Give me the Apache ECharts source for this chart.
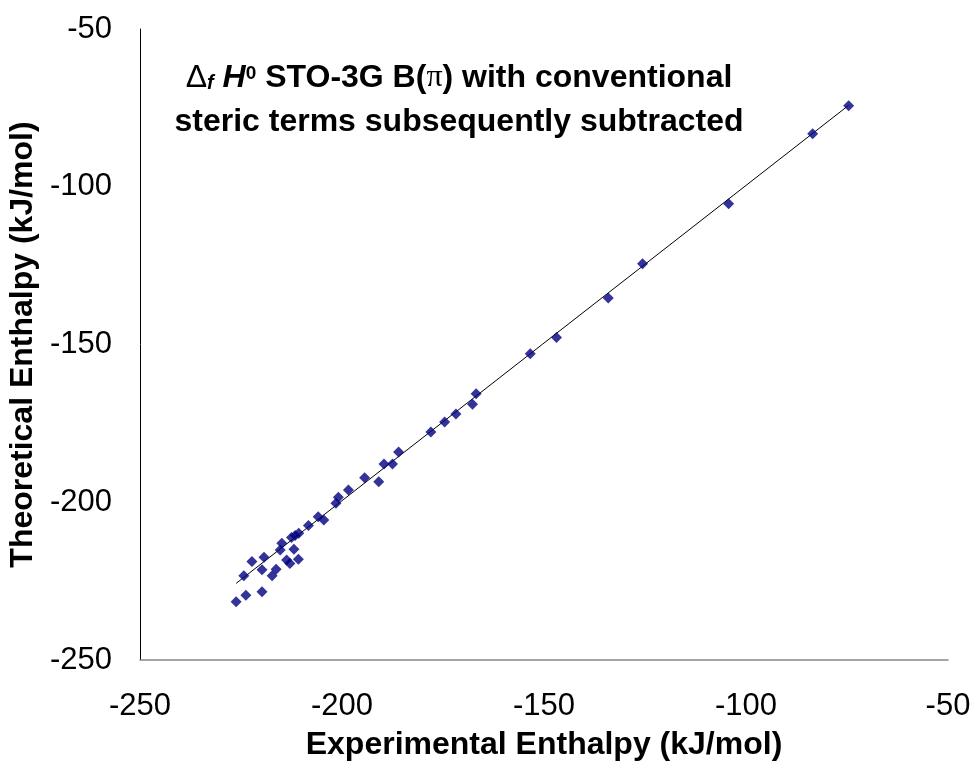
<!DOCTYPE html>
<html><head><meta charset="utf-8">
<script src="https://cdn.jsdelivr.net/npm/echarts@6/dist/echarts.min.js"></script>
<style>html,body{margin:0;padding:0;background:#fff}#c{width:975px;height:764px}</style>
</head><body><div id="c"></div>
<script>
const expX = [-226.2, -223.8, -219.8, -224.3, -222.3, -219.3, -219.8, -217.3, -216.3, -215.3, -214.9, -213.7, -212.9, -211.9, -210.8, -212.5, -211.6, -210.7, -208.3, -205.9, -204.5, -201.5, -200.9, -198.4, -194.4, -190.9, -189.6, -187.5, -186.0, -178.0, -174.6, -171.8, -167.7, -166.8, -153.4, -146.9, -134.1, -125.6, -104.3, -83.5, -74.6];
const theoY = [-231.5, -229.5, -228.4, -223.3, -218.8, -217.4, -221.4, -223.3, -221.2, -215.1, -213.0, -218.3, -219.4, -214.9, -218.1, -211.2, -210.5, -209.8, -207.4, -204.6, -205.6, -200.3, -198.4, -196.1, -192.2, -193.5, -187.9, -187.9, -184.1, -177.7, -174.6, -172.0, -168.9, -165.6, -152.9, -147.8, -135.3, -124.4, -105.4, -83.2, -74.3];
const trendX = [-226.2, -74.6];
const trendY = [-225.7, -74.2];
const xTicks = [-250, -200, -150, -100, -50];
const yTicks = [-250, -200, -150, -100, -50];
const xTitle = 'Experimental Enthalpy (kJ/mol)';
const yTitle = 'Theoretical Enthalpy (kJ/mol)';

const FONT = '"Liberation Sans", Arial, sans-serif';
const chart = echarts.init(document.getElementById('c'), null, {renderer: 'canvas'});
const pts = expX.map((x, i) => [x, theoY[i]]);
const trend = trendX.map((x, i) => [x, trendY[i]]);

chart.setOption({
  backgroundColor: '#fff',
  animation: false,
  title: {
    left: 459, top: 56, textAlign: 'center', padding: 0,
    text: '{d|Δ}{sub|f}{it| H}{sup|0}{b| STO-3G B(}{p|π}{b|) with conventional}\n{b|steric terms subsequently subtracted}',
    textStyle: {
      rich: {
        b: {fontSize: 32, fontWeight: 'bold', fontFamily: FONT, lineHeight: 44, color: '#000'},
        d: {fontSize: 32, fontWeight: 'normal', fontFamily: FONT, lineHeight: 44, color: '#000'},
        sub: {fontSize: 20, fontWeight: 'bold', fontStyle: 'italic', fontFamily: FONT, height: 33, lineHeight: 44, verticalAlign: 'bottom', color: '#000'},
        it: {fontSize: 32, fontWeight: 'bold', fontStyle: 'italic', fontFamily: FONT, lineHeight: 44, color: '#000'},
        sup: {fontSize: 19, fontWeight: 'bold', fontFamily: FONT, height: 35, lineHeight: 44, verticalAlign: 'top', color: '#000'},
        p: {fontSize: 32, fontWeight: 'normal', fontFamily: '"Liberation Serif", serif', lineHeight: 44, color: '#000'}
      }
    }
  },
  grid: {left: 140, top: 29, right: 27, bottom: 104, containLabel: false, outerBoundsMode: 'none'},
  xAxis: {
    type: 'value', min: xTicks[0], max: xTicks[xTicks.length - 1], interval: 50,
    name: xTitle, nameLocation: 'middle', nameGap: 69,
    nameTextStyle: {fontSize: 32, fontWeight: 'bold', fontFamily: FONT, color: '#000'},
    axisLine: {show: true, onZero: false, lineStyle: {color: '#868686', width: 1.5}},
    axisTick: {show: false},
    splitLine: {show: false},
    axisLabel: {fontSize: 31, fontFamily: FONT, color: '#000', margin: 31}
  },
  yAxis: {
    type: 'value', min: yTicks[0], max: yTicks[yTicks.length - 1], interval: 50,
    name: yTitle, nameLocation: 'middle', nameGap: 90, nameRotate: 90,
    nameTextStyle: {fontSize: 32, fontWeight: 'bold', fontFamily: FONT, color: '#000'},
    axisLine: {show: true, onZero: false, lineStyle: {color: '#000', width: 1}},
    axisTick: {show: false},
    splitLine: {show: false},
    axisLabel: {fontSize: 31, fontFamily: FONT, color: '#000', margin: 28}
  },
  series: [
    {type: 'line', data: trend, symbol: 'none', z: 1, lineStyle: {color: '#000', width: 1}, silent: true},
    {type: 'scatter', data: pts, symbol: 'diamond', symbolSize: 11, z: 2, itemStyle: {color: '#000080'}}
  ]
});
</script>
</body></html>
